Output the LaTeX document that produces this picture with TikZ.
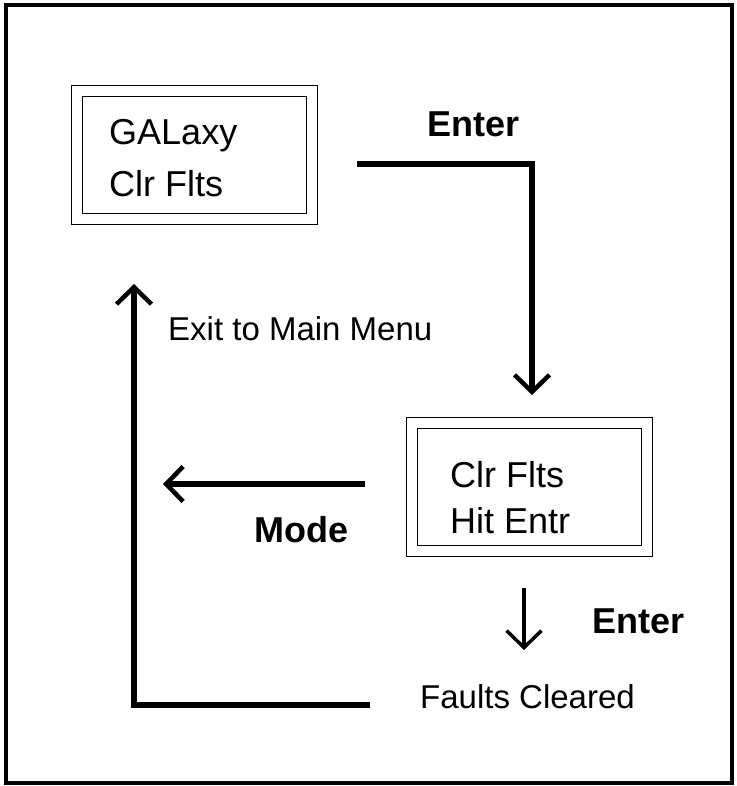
\documentclass[tikz,border=0pt]{standalone}
\usepackage{fontspec}
\setmainfont{Liberation Sans}
\usetikzlibrary{arrows.meta}
\begin{document}
\begin{tikzpicture}[x=1pt,y=-1pt,
  screen/.style={draw=black, line width=1.4pt, double=white, double distance=9.6pt,
    minimum width=235.5pt, minimum height=128.5pt, inner sep=0pt},
  boxtext/.style={anchor=base west, inner sep=0pt, font=\fontsize{36}{43}\selectfont},
  keytext/.style={anchor=base west, inner sep=0pt, font=\fontsize{36}{43}\selectfont\bfseries},
  notetext/.style={anchor=base west, inner sep=0pt, font=\fontsize{33}{40}\selectfont},
  flow/.style={line width=5.5pt, line join=miter,
    -{Straight Barb[length=17pt,width=35pt,line width=4.5pt]}},
  thinflow/.style={line width=3.5pt,
    -{Straight Barb[length=17pt,width=35pt,line width=3.5pt]}}]
\useasboundingbox (0,0) rectangle (736,786);
\draw[line width=4pt] (5.5,5) rectangle (732,783);

% screens
\node[screen] (b1) at (194.5,155) {};
\node[boxtext] (b1a) at (109,145) {GALaxy};
\node[boxtext] (b1b) at (109,197) {Clr Flts};

\node[screen] (b2) at (529.5,487) {};
\node[boxtext] (b2a) at (450,487) {Clr Flts};
\node[boxtext] (b2b) at (450,533) {Hit Entr};

% labels
\node[keytext] (k1) at (427,137) {Enter};
\node[notetext] (n1) at (168,340) {Exit to Main Menu};
\node[keytext] (k2) at (254,542) {Mode};
\node[keytext] (k3) at (592,633) {Enter};
\node[notetext] (n2) at (420,708) {Faults Cleared};

% connectors
\coordinate (a1s) at (357,164);
\coordinate (a1e) at (532,395);
\draw[flow] (a1s) -| (a1e);

\coordinate (a2s) at (365,484);
\coordinate (a2e) at (163,484);
\draw[flow] (a2s) -- (a2e);

\coordinate (a3s) at (524,588);
\coordinate (a3e) at (524,650);
\draw[thinflow] (a3s) -- (a3e);

\coordinate (a4s) at (370,705);
\coordinate (a4e) at (134,284);
\draw[flow] (a4s) -| (a4e);
\end{tikzpicture}
\end{document}
